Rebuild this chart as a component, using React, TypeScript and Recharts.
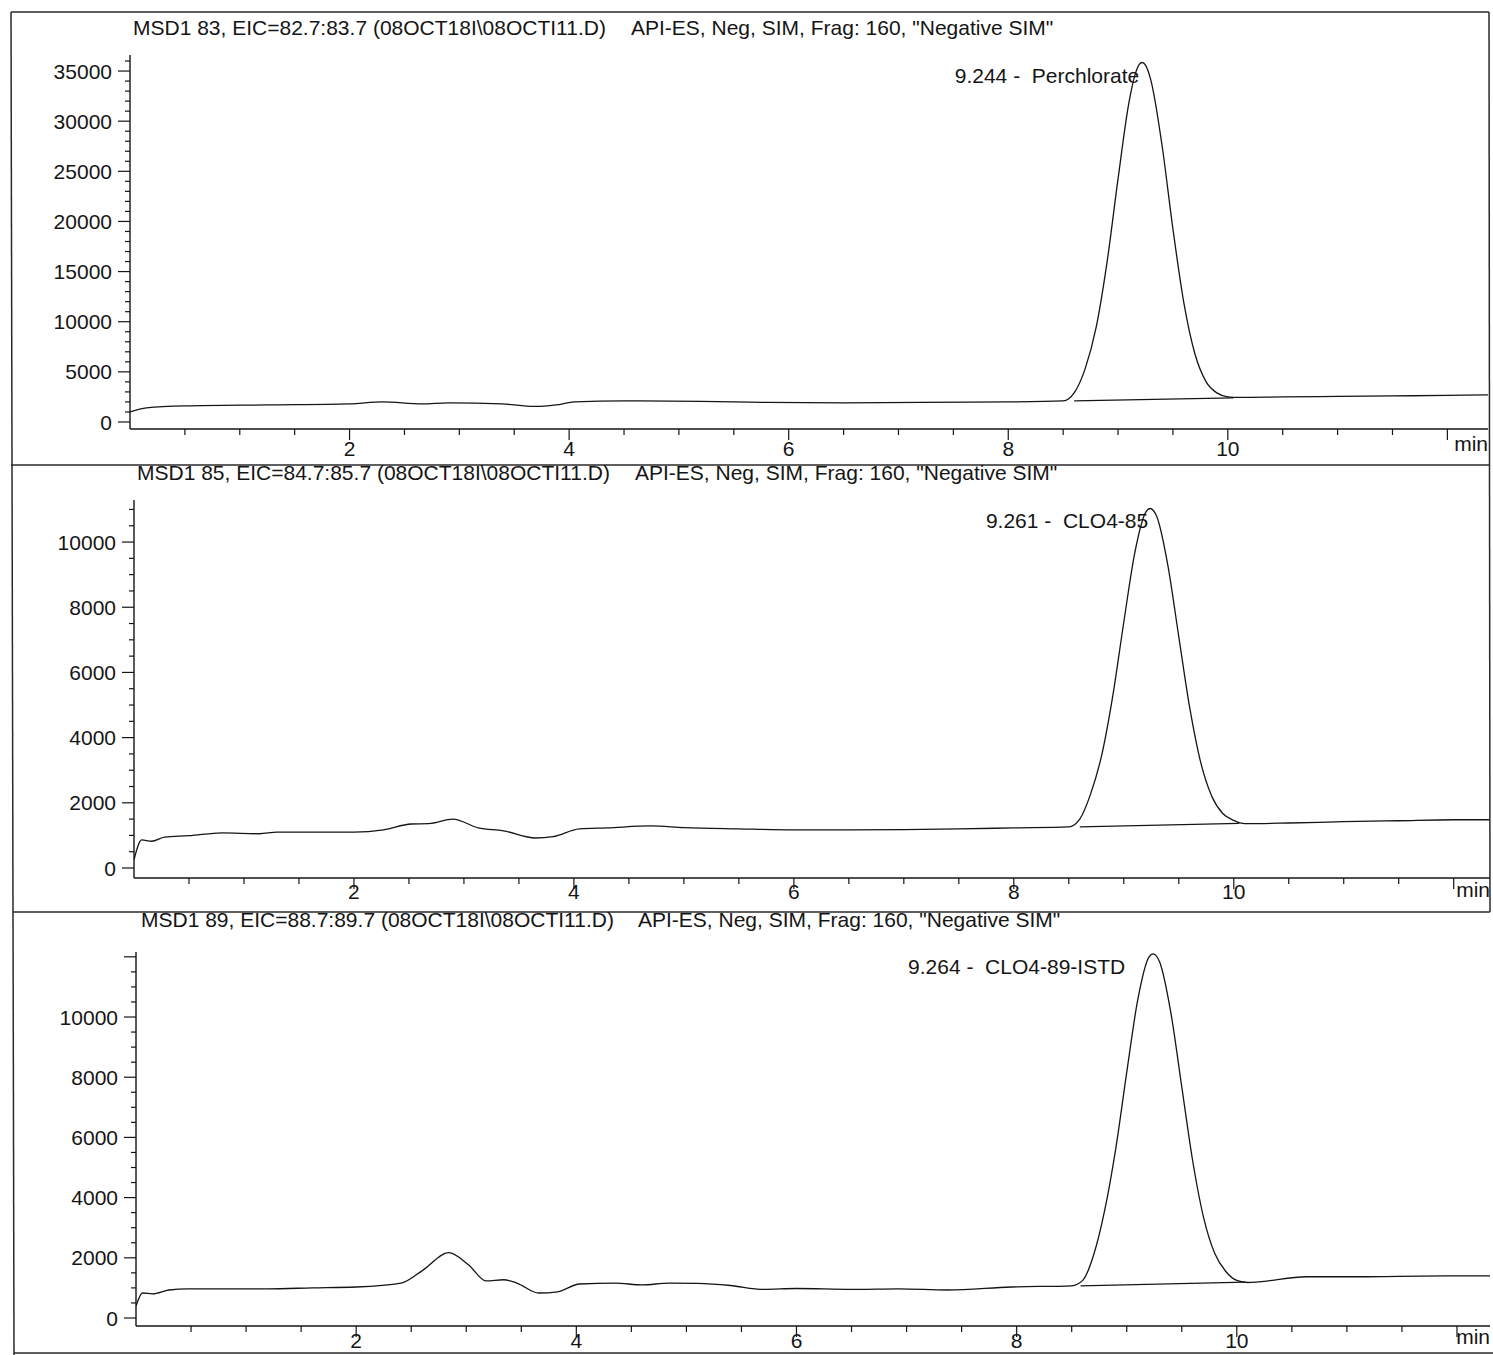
import { LineChart, Line, XAxis, YAxis, ReferenceDot } from "recharts";

// Scanned LC/MS SIM chromatograms, three ion traces (m/z 83, 85, 89)

const FONT = '"Liberation Sans", Arial, Helvetica, sans-serif';
const INK = "#151515";
const FS = 21;

type Pt = { t: number; v: number };
const toPts = (rows: number[][]): Pt[] => rows.map(([t, v]) => ({ t, v }));

// ---- titles / labels ----
const p1Title = "MSD1 83, EIC=82.7:83.7 (08OCT18I\\08OCTI11.D)";
const p2Title = "MSD1 85, EIC=84.7:85.7 (08OCT18I\\08OCTI11.D)";
const p3Title = "MSD1 89, EIC=88.7:89.7 (08OCT18I\\08OCTI11.D)";
const methodText = 'API-ES, Neg, SIM, Frag: 160, "Negative SIM"';
const p1PeakName = "9.244 -  Perchlorate";
const p2PeakName = "9.261 -  CLO4-85";
const p3PeakName = "9.264 -  CLO4-89-ISTD";

// ---- x ticks (minutes) ----
const xLabels = [2, 4, 6, 8, 10];
const xMajor = [2, 4, 6, 8, 10, 12];
const xTicks = [0.5, 1, 1.5, 2, 2.5, 3, 3.5, 4, 4.5, 5, 5.5, 6, 6.5, 7, 7.5, 8, 8.5, 9, 9.5, 10, 10.5, 11, 11.5, 12];

// ---- y ticks ----
const p1YLabels = [0, 5000, 10000, 15000, 20000, 25000, 30000, 35000];
const p2YLabels = [0, 2000, 4000, 6000, 8000, 10000];
const p3YLabels = [0, 2000, 4000, 6000, 8000, 10000];
const p3YMajor = [0, 2000, 4000, 6000, 8000, 10000, 12000];

const steps = (max: number, step: number) => {
  const out: number[] = [];
  for (let v = 0; v <= max; v += step) out.push(v);
  return out;
};

// ---- traces: [minutes, abundance] ----
const p1Trace = toPts([
  [0, 1000], [0.15, 1400], [0.5, 1600], [1.25, 1700], [2.0, 1800], [2.3, 2000],
  [2.66, 1800], [2.9, 1900], [3.39, 1800], [3.68, 1550], [3.88, 1700], [4.05, 2000],
  [4.5, 2100], [5.2, 2050], [5.8, 1950], [6.5, 1900], [7.2, 1950], [8.0, 2000],
  [8.5, 2100], [8.6, 2900], [8.7, 5300], [8.8, 9400], [8.9, 15950], [9.0, 24250],
  [9.1, 31900], [9.15, 34450], [9.2, 35750], [9.22, 35850], [9.25, 35600], [9.3, 34050],
  [9.4, 27650], [9.5, 19250], [9.6, 11850], [9.7, 6800], [9.8, 4050], [9.9, 2900],
  [10.0, 2500], [10.1, 2450], [10.5, 2500], [11.0, 2550], [11.5, 2600], [12.0, 2650],
  [12.37, 2700],
]);
const p1Base = toPts([[8.6, 2100], [10.05, 2400]]);

const p2Trace = toPts([
  [0, 250], [0.07, 860], [0.16, 820], [0.28, 950], [0.5, 990], [0.8, 1080],
  [1.14, 1050], [1.3, 1100], [1.6, 1100], [2.0, 1100], [2.27, 1170], [2.52, 1350],
  [2.68, 1360], [2.9, 1500], [3.13, 1230], [3.36, 1140], [3.65, 920], [3.81, 960],
  [4.05, 1200], [4.3, 1230], [4.7, 1290], [5.0, 1240], [5.5, 1200], [6.0, 1170],
  [6.5, 1170], [7.0, 1180], [7.5, 1200], [8.0, 1230], [8.5, 1260], [8.6, 1500],
  [8.7, 2290], [8.8, 3470], [8.9, 5280], [9.0, 7540], [9.1, 9670], [9.2, 10920],
  [9.24, 11030], [9.3, 10780], [9.4, 9300], [9.5, 7100], [9.6, 4910], [9.7, 3230],
  [9.8, 2200], [9.9, 1670], [10.0, 1460], [10.1, 1360], [10.5, 1380], [11.0, 1420],
  [11.5, 1450], [12.0, 1480], [12.33, 1480],
]);
const p2Base = toPts([[8.6, 1260], [10.05, 1370]]);

const p3Trace = toPts([
  [0, 400], [0.06, 830], [0.15, 800], [0.3, 930], [0.47, 970], [1.2, 970],
  [1.6, 1000], [2.0, 1030], [2.41, 1160], [2.61, 1600], [2.84, 2170], [3.02, 1770],
  [3.18, 1230], [3.34, 1270], [3.46, 1160], [3.66, 830], [3.83, 870], [4.03, 1130],
  [4.35, 1160], [4.6, 1100], [4.84, 1160], [5.1, 1150], [5.4, 1080], [5.7, 950],
  [6.0, 980], [6.5, 950], [6.93, 970], [7.37, 930], [7.95, 1030], [8.5, 1070],
  [8.6, 1250], [8.7, 2100], [8.8, 3580], [8.9, 5620], [9.0, 8160], [9.1, 10570],
  [9.2, 11980], [9.24, 12100], [9.3, 11820], [9.4, 10160], [9.5, 7680], [9.6, 5200],
  [9.7, 3310], [9.8, 2140], [9.9, 1545], [10.0, 1250], [10.1, 1180], [10.2, 1200],
  [10.63, 1370], [11.04, 1370], [11.9, 1400], [12.3, 1400],
]);
const p3Base = toPts([[8.58, 1070], [10.08, 1190]]);

// ---- tick renderers ----
function XTick(props: any) {
  const { x, y, payload, labelDy } = props;
  const v = payload.value;
  const major = xMajor.includes(v);
  return (
    <g>
      <line x1={x} x2={x} y1={y} y2={y + (major ? 11 : 6)} stroke={INK} strokeWidth={1.2} />
      {xLabels.includes(v) && (
        <text x={x} y={y + labelDy} textAnchor="middle" fontSize={FS} fontFamily={FONT} fill={INK}>
          {v}
        </text>
      )}
    </g>
  );
}

function YTick(props: any) {
  const { x, y, payload, labels, majors } = props;
  const v = payload.value;
  const major = majors.includes(v);
  return (
    <g>
      <line x1={x} x2={x - (major ? 12 : 5)} y1={y} y2={y} stroke={INK} strokeWidth={1.2} />
      {labels.includes(v) && (
        <text x={x - 18} y={y} dy="0.36em" textAnchor="end" fontSize={FS} fontFamily={FONT} fill={INK}>
          {v}
        </text>
      )}
    </g>
  );
}

function MinLabel(props: any) {
  const { viewBox, dy } = props;
  if (!viewBox) return null;
  return (
    <text x={viewBox.x + viewBox.width} y={viewBox.y + dy} textAnchor="end" fontSize={FS} fontFamily={FONT} fill={INK}>
      min
    </text>
  );
}

function PeakLabel(props: any) {
  const { viewBox, text, dx } = props;
  if (!viewBox) return null;
  const cx = viewBox.x + (viewBox.width || 0) / 2;
  const cy = viewBox.y + (viewBox.height || 0) / 2;
  return (
    <text x={cx + dx} y={cy + 20} textAnchor="end" fontSize={FS} fontFamily={FONT} fill={INK} style={{ whiteSpace: "pre" }}>
      {text}
    </text>
  );
}

interface PanelProps {
  top: number;
  height: number;
  marginTop: number;
  xAxisH: number;
  labelDy: number;
  minDy: number;
  plotLeft: number;
  plotRight: number;
  xMax: number;
  yDomain: [number, number];
  yTicks: number[];
  yLabels: number[];
  yMajor: number[];
  trace: Pt[];
  base: Pt[];
  peakName: string;
  peakDx: number;
}

function Panel(p: PanelProps) {
  const apex = p.trace.reduce((a, b) => (b.v > a.v ? b : a));
  return (
    <div style={{ position: "absolute", left: 0, top: p.top }}>
      <LineChart
        width={1493}
        height={p.height}
        data={p.trace}
        margin={{ top: p.marginTop, right: 1493 - p.plotRight, bottom: 0, left: 0 }}
      >
        <XAxis
          type="number"
          dataKey="t"
          domain={[0, p.xMax]}
          ticks={xTicks}
          interval={0}
          allowDataOverflow
          height={p.xAxisH}
          tickSize={0}
          tickMargin={0}
          tickLine={false}
          tick={<XTick labelDy={p.labelDy} />}
          axisLine={{ stroke: INK, strokeWidth: 1.4 }}
          label={<MinLabel dy={p.minDy} />}
        />
        <YAxis
          type="number"
          domain={p.yDomain}
          ticks={p.yTicks}
          interval={0}
          allowDataOverflow
          width={p.plotLeft}
          tickSize={0}
          tickMargin={0}
          tickLine={false}
          tick={<YTick labels={p.yLabels} majors={p.yMajor} />}
          axisLine={{ stroke: INK, strokeWidth: 1.4 }}
        />
        <Line
          data={p.base}
          dataKey="v"
          type="linear"
          stroke={INK}
          strokeWidth={1.2}
          dot={false}
          isAnimationActive={false}
        />
        <Line
          dataKey="v"
          type="monotone"
          stroke={INK}
          strokeWidth={1.3}
          dot={false}
          isAnimationActive={false}
        />
        <ReferenceDot
          x={apex.t}
          y={apex.v}
          r={1}
          fill="none"
          stroke="none"
          label={<PeakLabel text={p.peakName} dx={p.peakDx} />}
        />
      </LineChart>
    </div>
  );
}

export default function App() {
  const titleStyle = { fontSize: FS, fontFamily: FONT, fill: INK } as const;
  return (
    <div style={{ position: "absolute", left: 0, top: 0, width: 1493, height: 1355, background: "#fff", overflow: "hidden" }}>
      <Panel
        top={40} height={424} marginTop={15} xAxisH={35} labelDy={27} minDy={22}
        plotLeft={130} plotRight={1488} xMax={12.37}
        yDomain={[-700, 36600]} yTicks={steps(36000, 1000)} yLabels={p1YLabels} yMajor={p1YLabels}
        trace={p1Trace} base={p1Base} peakName={p1PeakName} peakDx={-3}
      />
      <Panel
        top={465} height={446} marginTop={35} xAxisH={33} labelDy={21} minDy={19}
        plotLeft={134} plotRight={1490} xMax={12.33}
        yDomain={[-307, 11290]} yTicks={steps(11000, 500)} yLabels={p2YLabels} yMajor={p2YLabels}
        trace={p2Trace} base={p2Base} peakName={p2PeakName} peakDx={-2}
      />
      <Panel
        top={912} height={443} marginTop={40} xAxisH={29} labelDy={22} minDy={18}
        plotLeft={136} plotRight={1490} xMax={12.3}
        yDomain={[-266, 12160]} yTicks={steps(12000, 500)} yLabels={p3YLabels} yMajor={p3YMajor}
        trace={p3Trace} base={p3Base} peakName={p3PeakName} peakDx={-28}
      />
      <svg width={1493} height={1355} style={{ position: "absolute", left: 0, top: 0, pointerEvents: "none" }}>
        <g stroke="#2a2a2a" strokeWidth={1.5}>
          <line x1={11} y1={12} x2={1489} y2={12} />
          <line x1={11} y1={12} x2={14} y2={1355} />
          <line x1={1489} y1={12} x2={1490} y2={912} />
          <line x1={11} y1={465} x2={1489} y2={465} />
          <line x1={13} y1={912} x2={1490} y2={912} />
          <line x1={14} y1={1353} x2={1493} y2={1353} />
        </g>
        <text x={133} y={35} {...titleStyle}>{p1Title}</text>
        <text x={631} y={35} {...titleStyle}>{methodText}</text>
        <text x={137} y={480} {...titleStyle}>{p2Title}</text>
        <text x={635} y={480} {...titleStyle}>{methodText}</text>
        <text x={141} y={927} {...titleStyle}>{p3Title}</text>
        <text x={638} y={927} {...titleStyle}>{methodText}</text>
      </svg>
    </div>
  );
}
